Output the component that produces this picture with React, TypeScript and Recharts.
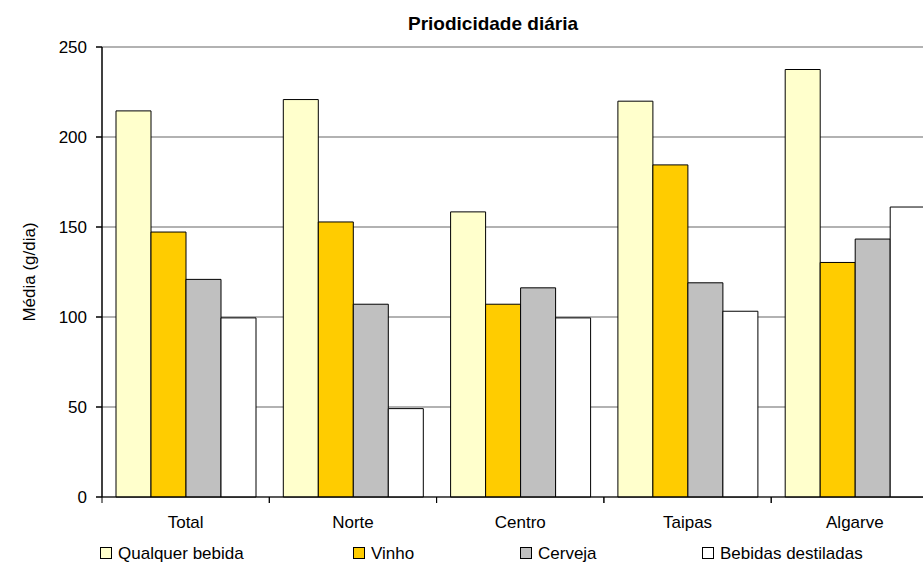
import { BarChart, Bar, XAxis, YAxis, CartesianGrid } from 'recharts';

const CATEGORIES = ['Total', 'Norte', 'Centro', 'Taipas', 'Algarve'];
const QUALQUER = [214.5, 220.8, 158.4, 219.9, 237.5];
const VINHO = [147.2, 152.8, 107.1, 184.5, 130.3];
const CERVEJA = [120.9, 107.1, 116.2, 119.0, 143.3];
const DESTILADAS = [99.5, 49.1, 99.5, 103.2, 161.1];
const Y_TICKS = [0, 50, 100, 150, 200, 250];
const SERIES_KEYS = ['qualquer', 'vinho', 'cerveja', 'destiladas'];
const SERIES_NAMES = ['Qualquer bebida', 'Vinho', 'Cerveja', 'Bebidas destiladas'];

const COLORS = ['#FFFFCC', '#FFCC00', '#C0C0C0', '#FFFFFF'];
const LEGEND_LEFT = [100, 353, 520, 702];
const FONT = '"Liberation Sans", Arial, sans-serif';

const CHART_W = 950;
const CHART_H = 562;
const MARGIN = { top: 47, right: 11.5, bottom: 35, left: 0 };
const Y_AXIS_W = 102;
const HALF_BAND = (CHART_W - Y_AXIS_W - MARGIN.right) / CATEGORIES.length / 2;

const data = CATEGORIES.map((name, i) => ({
  name,
  qualquer: QUALQUER[i],
  vinho: VINHO[i],
  cerveja: CERVEJA[i],
  destiladas: DESTILADAS[i],
}));

function XTick(props: any) {
  const { x, y, payload } = props;
  const axisY = y - 8;
  return (
    <g>
      <line x1={x - HALF_BAND} x2={x - HALF_BAND} y1={axisY} y2={axisY + 6} stroke="#000" />
      <line x1={x + HALF_BAND} x2={x + HALF_BAND} y1={axisY} y2={axisY + 6} stroke="#000" />
      <text x={x} y={y + 22.7} textAnchor="middle" fontSize={17} fill="#000" fontFamily={FONT}>
        {payload.value}
      </text>
    </g>
  );
}

export default function App() {
  return (
    <div
      style={{
        position: 'fixed',
        top: 0,
        left: 0,
        width: 923,
        height: 562,
        overflow: 'hidden',
        background: '#fff',
        fontFamily: FONT,
      }}
    >
      <div
        style={{
          position: 'absolute',
          top: 14,
          left: 0,
          width: 986,
          textAlign: 'center',
          fontWeight: 'bold',
          fontSize: 19,
          lineHeight: '19px',
          color: '#000',
        }}
      >
        Priodicidade diária
      </div>

      <BarChart
        width={CHART_W}
        height={CHART_H}
        data={data}
        margin={MARGIN}
        barCategoryGap={14}
        barGap={0}
      >
        <CartesianGrid vertical={false} stroke="#999" strokeWidth={1.5} />
        <XAxis
          dataKey="name"
          height={30}
          stroke="#000"
          tickLine={false}
          tickSize={6}
          tickMargin={2}
          tick={<XTick />}
          interval={0}
        />
        <YAxis
          width={Y_AXIS_W}
          domain={[0, 250]}
          ticks={Y_TICKS}
          stroke="#000"
          strokeWidth={1.5}
          tickSize={6}
          tickMargin={9}
          tick={{ fill: '#000', fontSize: 17, fontFamily: FONT }}
          label={{
            value: 'Média (g/dia)',
            angle: -90,
            position: 'insideLeft',
            offset: 29,
            fill: '#000',
            fontSize: 17,
            fontFamily: FONT,
            style: { textAnchor: 'middle' },
          }}
        />
        {SERIES_KEYS.map((key, i) => (
          <Bar
            key={key}
            dataKey={key}
            name={SERIES_NAMES[i]}
            fill={COLORS[i]}
            stroke="#000"
            strokeWidth={1}
            isAnimationActive={false}
          />
        ))}
      </BarChart>

      {SERIES_NAMES.map((name, i) => (
        <div key={name}>
          <div
            style={{
              position: 'absolute',
              left: LEGEND_LEFT[i],
              top: 547,
              width: 12,
              height: 12,
              boxSizing: 'border-box',
              border: '1.5px solid #000',
              background: COLORS[i],
            }}
          />
          <div
            style={{
              position: 'absolute',
              left: LEGEND_LEFT[i] + 18,
              top: 545,
              fontSize: 17,
              lineHeight: '17px',
              color: '#000',
              whiteSpace: 'nowrap',
            }}
          >
            {name}
          </div>
        </div>
      ))}
    </div>
  );
}
